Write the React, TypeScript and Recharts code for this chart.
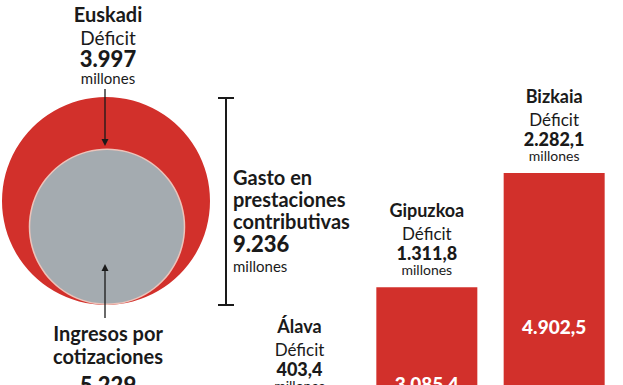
import { Bar, BarChart, LabelList, Pie, PieChart, XAxis, YAxis } from "recharts";

const provinces = ["Álava", "Gipuzkoa", "Bizkaia"];
const provinceGasto = [1248.1, 3085.4, 4902.5];
const provinceDeficit = [403.4, 1311.8, 2282.1];

const euskadiGasto = 9236;
const euskadiIngresos = 5229;
const euskadiDeficit = 3997;

const RED = "#d2302b";
const GRAY = "#a4abb0";
const FONT = "Lato, 'Noto Sans', sans-serif";

const fmt = (v: number) => {
  const [i, d] = v.toFixed(v % 1 === 0 ? 0 : 1).split(".");
  const g = i.replace(/\B(?=(\d{3})+(?!\d))/g, ".");
  return d ? `${g},${d}` : g;
};

const barData = provinces.map((name, i) => ({
  name,
  gasto: provinceGasto[i],
  deficit: provinceDeficit[i],
}));

const HeadLabel = (props: any) => {
  const { x, y, width, value } = props;
  const row = barData.find((r) => r.name === value);
  if (!row) return null;
  const cx = x + width / 2;
  return (
    <g fontFamily={FONT} textAnchor="middle" fill="#1a1a1a">
      <text x={cx} y={y - 70} fontSize={18} fontWeight={700}>{row.name}</text>
      <text x={cx} y={y - 47} fontSize={17}>Déficit</text>
      <text x={cx} y={y - 27} fontSize={18} fontWeight={900}>{fmt(row.deficit)}</text>
      <text x={cx} y={y - 12} fontSize={14}>millones</text>
    </g>
  );
};

const R = 104;
const r = R * Math.sqrt(euskadiIngresos / euskadiGasto);

export default function App() {
  return (
    <div
      style={{
        position: "absolute",
        left: 0,
        top: 0,
        width: 623,
        height: 385,
        overflow: "hidden",
        background: "#fff",
      }}
    >
      <div style={{ position: "absolute", left: 0, top: 95 }}>
        <PieChart width={220} height={220} margin={{ top: 0, right: 0, bottom: 0, left: 0 }}>
          <Pie
            data={[{ name: "Gasto", value: euskadiGasto }]}
            dataKey="value"
            cx={106}
            cy={106}
            outerRadius={R}
            startAngle={90}
            endAngle={-270}
            fill={RED}
            stroke="none"
            isAnimationActive={false}
          />
          <Pie
            data={[{ name: "Borde", value: euskadiIngresos }]}
            dataKey="value"
            cx={107}
            cy={106 + R - r}
            outerRadius={r}
            startAngle={90}
            endAngle={-270}
            fill="#ecc3ba"
            stroke="none"
            isAnimationActive={false}
          />
          <Pie
            data={[{ name: "Ingresos", value: euskadiIngresos }]}
            dataKey="value"
            cx={107}
            cy={106 + R - r}
            outerRadius={r - 1.5}
            startAngle={90}
            endAngle={-270}
            fill={GRAY}
            stroke="none"
            isAnimationActive={false}
          />
        </PieChart>
      </div>

      <div style={{ position: "absolute", left: 0, top: 0 }}>
        <BarChart
          width={623}
          height={490}
          data={barData}
          margin={{ top: 104, right: 5, bottom: 9, left: 236 }}
        >
          <XAxis dataKey="name" hide />
          <YAxis hide domain={[0, 6000]} />
          <Bar dataKey="gasto" fill={RED} barSize={101} isAnimationActive={false}>
            <LabelList dataKey="name" content={HeadLabel} />
            <LabelList
              dataKey="gasto"
              position="center"
              fill="#fff"
              fontSize={19}
              fontWeight={900}
              fontFamily={FONT}
              formatter={(v: any) => fmt(Number(v))}
            />
          </Bar>
        </BarChart>
      </div>

      <svg
        width={623}
        height={385}
        style={{ position: "absolute", left: 0, top: 0, pointerEvents: "none" }}
        fontFamily={FONT}
        fill="#1a1a1a"
      >
        <g textAnchor="middle">
          <text x={108} y={22} fontSize={20} fontWeight={700}>Euskadi</text>
          <text x={108} y={45} fontSize={19}>Déficit</text>
          <text x={108} y={67} fontSize={22} fontWeight={900}>{fmt(euskadiDeficit)}</text>
          <text x={108} y={84} fontSize={15}>millones</text>
          <text x={108} y={341} fontSize={20} fontWeight={700}>Ingresos por</text>
          <text x={108} y={364} fontSize={20} fontWeight={700}>cotizaciones</text>
          <text x={108} y={393} fontSize={22} fontWeight={900}>{fmt(euskadiIngresos)}</text>
        </g>
        <line x1={105} y1={89} x2={105} y2={140} stroke="#1a1a1a" strokeWidth={1.3} />
        <path d="M101.5,139 L108.5,139 L105,146 Z" />
        <line x1={105} y1={318} x2={105} y2={270} stroke="#1a1a1a" strokeWidth={1.3} />
        <path d="M101.5,271 L108.5,271 L105,264 Z" />
        <g stroke="#1a1a1a" strokeWidth={2}>
          <line x1={226} y1={98} x2={226} y2={305} />
          <line x1={218} y1={98} x2={234} y2={98} />
          <line x1={218} y1={305} x2={234} y2={305} />
        </g>
        <g textAnchor="start">
          <text x={233} y={185} fontSize={20} fontWeight={700}>Gasto en</text>
          <text x={233} y={207} fontSize={20} fontWeight={700}>prestaciones</text>
          <text x={233} y={229} fontSize={20} fontWeight={700}>contributivas</text>
          <text x={233} y={252} fontSize={22} fontWeight={900}>{fmt(euskadiGasto)}</text>
          <text x={233} y={272} fontSize={15}>millones</text>
        </g>
      </svg>
    </div>
  );
}
